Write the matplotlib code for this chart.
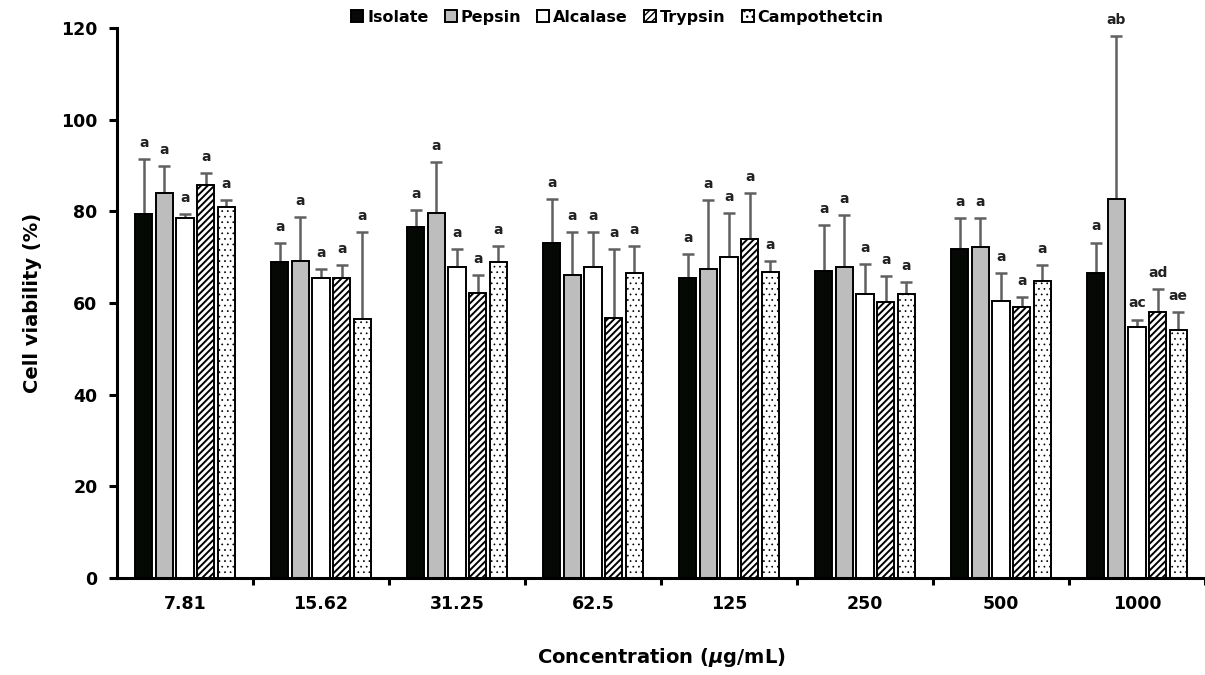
import matplotlib
matplotlib.use("Agg")
import matplotlib.pyplot as plt
import numpy as np

plt.rcParams["font.family"] = ["DejaVu Sans"]
plt.rcParams["font.weight"] = "bold"
plt.rcParams["mathtext.fontset"] = "dejavusans"

concentrations = ["7.81", "15.62", "31.25", "62.5", "125", "250", "500", "1000"]
treatments = ["Isolate", "Pepsin", "Alcalase", "Trypsin", "Campothetcin"]

isolate = [79.4, 69.0, 76.6, 73.1, 65.5, 67.0, 71.7, 66.6]
pepsin = [84.0, 69.2, 79.6, 66.1, 67.4, 67.9, 72.2, 82.6]
alcalase = [78.5, 65.5, 67.9, 67.9, 70.0, 62.0, 60.4, 54.7]
trypsin = [85.8, 65.5, 62.2, 56.7, 74.0, 60.2, 59.1, 58.1]
campto = [81.0, 56.5, 69.0, 66.5, 66.8, 62.0, 64.7, 54.1]

isolate_sd = [12.0, 4.1, 3.7, 9.6, 5.2, 10.0, 6.8, 6.6]
pepsin_sd = [5.9, 9.6, 11.2, 9.4, 15.1, 11.3, 6.3, 35.7]
alcalase_sd = [0.9, 1.9, 3.9, 7.6, 9.6, 6.5, 6.2, 1.7]
trypsin_sd = [2.6, 2.8, 3.9, 15.1, 10.0, 5.7, 2.2, 5.0]
campto_sd = [1.5, 19.0, 3.4, 5.9, 2.4, 2.6, 3.6, 4.0]

letters = [
    ["a"] * 8,
    ["a"] * 7 + ["ab"],
    ["a"] * 7 + ["ac"],
    ["a"] * 7 + ["ad"],
    ["a"] * 7 + ["ae"],
]

means = [isolate, pepsin, alcalase, trypsin, campto]
sds = [isolate_sd, pepsin_sd, alcalase_sd, trypsin_sd, campto_sd]
faces = ["#060806", "#bdbdbd", "white", "white", "white"]
hatches = [None, None, None, "/////", "..."]
hatch_lw = [1.0, 1.0, 1.0, 1.4, 0.5]

fig = plt.figure(figsize=(12.05, 6.75), dpi=100)
ax = fig.add_axes([0.0971, 0.1437, 0.9029, 0.8148])

x = np.arange(len(concentrations))
slot = 0.152
width = 0.128
for i, (m, s) in enumerate(zip(means, sds)):
    pos = x + (i - 2) * slot
    with plt.rc_context({"hatch.linewidth": hatch_lw[i]}):
        ax.bar(pos, m, width, color=faces[i], edgecolor="black", linewidth=1.4,
               hatch=hatches[i], label=treatments[i], zorder=2)
    ax.errorbar(pos, m, yerr=[np.zeros(len(s)), s], fmt="none", ecolor="#606060",
                elinewidth=1.8, capsize=4.5, capthick=1.8, zorder=1)
    for px, mv, sv, lab in zip(pos, m, s, letters[i]):
        ax.text(px, mv + sv + 2.0, lab, ha="center", va="bottom", fontsize=10,
                fontweight="bold", color="#222222")

ax.set_xlim(-0.5, 7.5)
ax.set_ylim(0, 120)
ax.set_yticks(np.arange(0, 121, 20))
ax.set_xticks(x)
ax.set_xticklabels(concentrations)
ax.set_xticks(np.arange(0.5, 7.6, 1.0), minor=True)
ax.tick_params(axis="x", which="major", length=0, pad=12, labelsize=12.5)
ax.tick_params(axis="x", which="minor", length=5, width=2.2, direction="out")
ax.tick_params(axis="y", length=6, width=2.2, direction="out", labelsize=12.5, pad=8)

for side in ["top", "right"]:
    ax.spines[side].set_visible(False)
for side in ["left", "bottom"]:
    ax.spines[side].set_linewidth(2.2)

ax.set_ylabel("Cell viability (%)", fontsize=14, fontweight="bold", labelpad=14)
ax.set_xlabel("Concentration ($\\boldsymbol{\\mu}$g/mL)", fontsize=14,
              fontweight="bold", labelpad=24)

leg = ax.legend(loc="upper center", bbox_to_anchor=(0.46, 1.045), ncol=5,
                frameon=False, fontsize=11.5, handlelength=0.75, handleheight=0.75,
                handletextpad=0.25, columnspacing=1.0, borderaxespad=0)

fig.savefig("out.png", dpi=100)
